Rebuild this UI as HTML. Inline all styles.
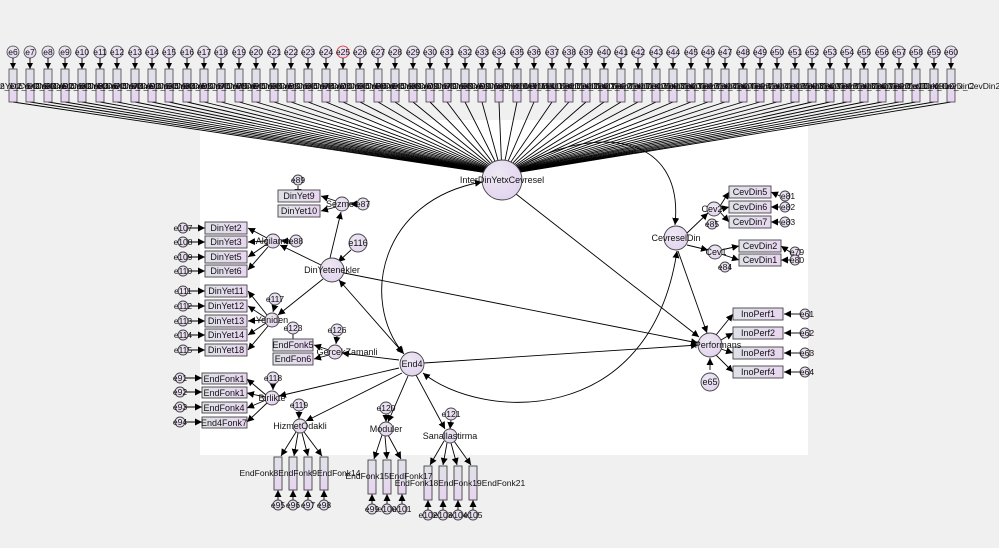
<!DOCTYPE html>
<html><head><meta charset="utf-8"><style>
html,body{margin:0;padding:0;background:#f0f0f0}
svg{display:block}
text{font-family:"Liberation Sans",sans-serif;fill:#111}
</style></head><body>
<svg width="999" height="548" viewBox="0 0 999 548" xmlns="http://www.w3.org/2000/svg">
<defs>
<marker id="a" viewBox="0 0 10 10" refX="10" refY="5" markerWidth="7" markerHeight="7" orient="auto-start-reverse" markerUnits="userSpaceOnUse"><path d="M0,0L10,5L0,10z" fill="#000"/></marker>
<linearGradient id="bx" x1="0" y1="0" x2="0" y2="1"><stop offset="0" stop-color="#dfe1e8"/><stop offset="0.5" stop-color="#e4dcec"/><stop offset="1" stop-color="#e6d3f0"/></linearGradient>
<linearGradient id="bh" x1="0" y1="0" x2="1" y2="0"><stop offset="0" stop-color="#dfe1e8"/><stop offset="1" stop-color="#e8d6f0"/></linearGradient>
<radialGradient id="cg" cx="0.4" cy="0.35" r="0.7"><stop offset="0" stop-color="#ece8f2"/><stop offset="1" stop-color="#e3d3ef"/></radialGradient>
</defs>
<rect width="999" height="548" fill="#f0f0f0"/>
<rect x="200" y="120" width="608" height="335" fill="#fff"/>

<g stroke="#000" stroke-width="0.9" fill="none">
<line x1="13" y1="102" x2="502" y2="175"/><line x1="30" y1="102" x2="502" y2="175"/><line x1="48" y1="102" x2="502" y2="175"/><line x1="65" y1="102" x2="502" y2="175"/><line x1="82" y1="102" x2="502" y2="175"/><line x1="100" y1="102" x2="502" y2="175"/><line x1="117" y1="102" x2="502" y2="175"/><line x1="135" y1="102" x2="502" y2="175"/><line x1="152" y1="102" x2="502" y2="175"/><line x1="169" y1="102" x2="502" y2="175"/><line x1="187" y1="102" x2="502" y2="175"/><line x1="204" y1="102" x2="502" y2="175"/><line x1="221" y1="102" x2="502" y2="175"/><line x1="239" y1="102" x2="502" y2="175"/><line x1="256" y1="102" x2="502" y2="175"/><line x1="274" y1="102" x2="502" y2="175"/><line x1="291" y1="102" x2="502" y2="175"/><line x1="308" y1="102" x2="502" y2="175"/><line x1="326" y1="102" x2="502" y2="175"/><line x1="343" y1="102" x2="502" y2="175"/><line x1="360" y1="102" x2="502" y2="175"/><line x1="378" y1="102" x2="502" y2="175"/><line x1="395" y1="102" x2="502" y2="175"/><line x1="413" y1="102" x2="502" y2="175"/><line x1="430" y1="102" x2="502" y2="175"/><line x1="447" y1="102" x2="502" y2="175"/><line x1="465" y1="102" x2="502" y2="175"/><line x1="482" y1="102" x2="502" y2="175"/><line x1="499" y1="102" x2="502" y2="175"/><line x1="517" y1="102" x2="502" y2="175"/><line x1="534" y1="102" x2="502" y2="175"/><line x1="552" y1="102" x2="502" y2="175"/><line x1="569" y1="102" x2="502" y2="175"/><line x1="586" y1="102" x2="502" y2="175"/><line x1="604" y1="102" x2="502" y2="175"/><line x1="621" y1="102" x2="502" y2="175"/><line x1="638" y1="102" x2="502" y2="175"/><line x1="656" y1="102" x2="502" y2="175"/><line x1="673" y1="102" x2="502" y2="175"/><line x1="691" y1="102" x2="502" y2="175"/><line x1="708" y1="102" x2="502" y2="175"/><line x1="725" y1="102" x2="502" y2="175"/><line x1="743" y1="102" x2="502" y2="175"/><line x1="760" y1="102" x2="502" y2="175"/><line x1="777" y1="102" x2="502" y2="175"/><line x1="795" y1="102" x2="502" y2="175"/><line x1="812" y1="102" x2="502" y2="175"/><line x1="830" y1="102" x2="502" y2="175"/><line x1="847" y1="102" x2="502" y2="175"/><line x1="864" y1="102" x2="502" y2="175"/><line x1="882" y1="102" x2="502" y2="175"/><line x1="899" y1="102" x2="502" y2="175"/><line x1="916" y1="102" x2="502" y2="175"/><line x1="934" y1="102" x2="502" y2="175"/><line x1="951" y1="102" x2="502" y2="175"/>

<path d="M518,168 C590,125 685,130 675,225" marker-end="url(#a)"/>
<path d="M403,353 C360,300 380,200 482,182" marker-start="url(#a)" marker-end="url(#a)"/>
<path d="M423,373 C480,420 650,430 677,251" marker-start="url(#a)" marker-end="url(#a)"/>
<line x1="516" y1="194" x2="699" y2="337" marker-end="url(#a)"/>
<line x1="344" y1="273" x2="698" y2="343" marker-end="url(#a)"/>
<line x1="424" y1="363" x2="698" y2="345" marker-end="url(#a)"/>
<line x1="678" y1="251" x2="707" y2="333" marker-end="url(#a)"/>
<line x1="339" y1="280" x2="404" y2="354" marker-start="url(#a)" marker-end="url(#a)"/>
<line x1="330" y1="258" x2="341" y2="212" marker-end="url(#a)"/>
<line x1="321" y1="265" x2="280" y2="245" marker-end="url(#a)"/>
<line x1="323" y1="279" x2="278" y2="315" marker-end="url(#a)"/>
<line x1="351" y1="250" x2="338" y2="262" marker-end="url(#a)"/>
<line x1="399" y1="360" x2="342" y2="353" marker-end="url(#a)"/>
<line x1="399" y1="368" x2="279" y2="396" marker-end="url(#a)"/>
<line x1="402" y1="373" x2="306" y2="421" marker-end="url(#a)"/>
<line x1="408" y1="376" x2="388" y2="422" marker-end="url(#a)"/>
<line x1="416" y1="375" x2="445" y2="429" marker-end="url(#a)"/>
<line x1="687" y1="233" x2="708" y2="213" marker-end="url(#a)"/>
<line x1="687" y1="245" x2="708" y2="250" marker-end="url(#a)"/>
<line x1="710" y1="370" x2="710" y2="358" marker-end="url(#a)"/>
<line x1="336" y1="201" x2="321" y2="196" marker-end="url(#a)"/>
<line x1="336" y1="207" x2="321" y2="211" marker-end="url(#a)"/>
<line x1="357" y1="204" x2="350" y2="204" marker-end="url(#a)"/>
<line x1="298" y1="186" x2="298" y2="196" marker-end="url(#a)"/>
<line x1="267" y1="238" x2="248" y2="228" marker-end="url(#a)"/>
<line x1="266" y1="241" x2="248" y2="242" marker-end="url(#a)"/>
<line x1="267" y1="244" x2="248" y2="257" marker-end="url(#a)"/>
<line x1="268" y1="247" x2="248" y2="270" marker-end="url(#a)"/>
<line x1="290" y1="241" x2="281" y2="241" marker-end="url(#a)"/>
<line x1="267" y1="315" x2="248" y2="291" marker-end="url(#a)"/>
<line x1="266" y1="318" x2="248" y2="306" marker-end="url(#a)"/>
<line x1="265" y1="320" x2="248" y2="321" marker-end="url(#a)"/>
<line x1="266" y1="323" x2="248" y2="335" marker-end="url(#a)"/>
<line x1="268" y1="326" x2="248" y2="350" marker-end="url(#a)"/>
<line x1="275" y1="305" x2="273" y2="312" marker-end="url(#a)"/>
<line x1="329" y1="350" x2="314" y2="345" marker-end="url(#a)"/>
<line x1="329" y1="355" x2="314" y2="359" marker-end="url(#a)"/>
<line x1="337" y1="336" x2="336" y2="344" marker-end="url(#a)"/>
<line x1="293" y1="334" x2="293" y2="348" marker-end="url(#a)"/>
<line x1="266" y1="395" x2="247" y2="379" marker-end="url(#a)"/>
<line x1="265" y1="397" x2="247" y2="393" marker-end="url(#a)"/>
<line x1="266" y1="400" x2="247" y2="408" marker-end="url(#a)"/>
<line x1="267" y1="403" x2="247" y2="422" marker-end="url(#a)"/>
<line x1="273" y1="384" x2="273" y2="390" marker-end="url(#a)"/>
<line x1="296" y1="432" x2="281" y2="456" marker-end="url(#a)"/>
<line x1="298" y1="433" x2="294" y2="456" marker-end="url(#a)"/>
<line x1="302" y1="433" x2="308" y2="456" marker-end="url(#a)"/>
<line x1="304" y1="432" x2="322" y2="456" marker-end="url(#a)"/>
<line x1="299" y1="411" x2="299" y2="419" marker-end="url(#a)"/>
<line x1="382" y1="435" x2="374" y2="459" marker-end="url(#a)"/>
<line x1="385" y1="436" x2="387" y2="459" marker-end="url(#a)"/>
<line x1="388" y1="435" x2="401" y2="459" marker-end="url(#a)"/>
<line x1="386" y1="414" x2="386" y2="422" marker-end="url(#a)"/>
<line x1="444" y1="441" x2="430" y2="465" marker-end="url(#a)"/>
<line x1="447" y1="443" x2="443" y2="465" marker-end="url(#a)"/>
<line x1="451" y1="443" x2="457" y2="465" marker-end="url(#a)"/>
<line x1="454" y1="441" x2="471" y2="465" marker-end="url(#a)"/>
<line x1="451" y1="420" x2="450" y2="429" marker-end="url(#a)"/>
<line x1="720" y1="206" x2="729" y2="192" marker-end="url(#a)"/>
<line x1="721" y1="209" x2="729" y2="207" marker-end="url(#a)"/>
<line x1="720" y1="212" x2="729" y2="222" marker-end="url(#a)"/>
<line x1="780" y1="196" x2="771" y2="192" marker-end="url(#a)"/>
<line x1="780" y1="207" x2="771" y2="207" marker-end="url(#a)"/>
<line x1="780" y1="222" x2="771" y2="222" marker-end="url(#a)"/>
<line x1="721" y1="250" x2="739" y2="246" marker-end="url(#a)"/>
<line x1="721" y1="254" x2="739" y2="260" marker-end="url(#a)"/>
<line x1="790" y1="252" x2="781" y2="246" marker-end="url(#a)"/>
<line x1="790" y1="260" x2="781" y2="260" marker-end="url(#a)"/>
<line x1="716" y1="335" x2="733" y2="314" marker-end="url(#a)"/>
<line x1="721" y1="340" x2="733" y2="333" marker-end="url(#a)"/>
<line x1="721" y1="349" x2="733" y2="353" marker-end="url(#a)"/>
<line x1="716" y1="355" x2="733" y2="372" marker-end="url(#a)"/>
<line x1="800" y1="314" x2="784" y2="314" marker-end="url(#a)"/>
<line x1="800" y1="333" x2="784" y2="333" marker-end="url(#a)"/>
<line x1="800" y1="353" x2="784" y2="353" marker-end="url(#a)"/>
<line x1="800" y1="372" x2="784" y2="372" marker-end="url(#a)"/>
<line x1="188" y1="228" x2="205" y2="228" marker-end="url(#a)"/><line x1="188" y1="242" x2="205" y2="242" marker-end="url(#a)"/><line x1="188" y1="257" x2="205" y2="257" marker-end="url(#a)"/><line x1="188" y1="271" x2="205" y2="271" marker-end="url(#a)"/>
<line x1="188" y1="291" x2="205" y2="291" marker-end="url(#a)"/><line x1="188" y1="306" x2="205" y2="306" marker-end="url(#a)"/><line x1="188" y1="321" x2="205" y2="321" marker-end="url(#a)"/><line x1="188" y1="335" x2="205" y2="335" marker-end="url(#a)"/><line x1="188" y1="350" x2="205" y2="350" marker-end="url(#a)"/>
<line x1="185" y1="378" x2="202" y2="378" marker-end="url(#a)"/><line x1="185" y1="392" x2="202" y2="392" marker-end="url(#a)"/><line x1="185" y1="407" x2="202" y2="407" marker-end="url(#a)"/><line x1="185" y1="422" x2="202" y2="422" marker-end="url(#a)"/>
<line x1="278" y1="500" x2="278" y2="490" marker-end="url(#a)"/><line x1="293" y1="500" x2="293" y2="490" marker-end="url(#a)"/><line x1="308" y1="500" x2="308" y2="490" marker-end="url(#a)"/><line x1="324" y1="500" x2="324" y2="490" marker-end="url(#a)"/>
<line x1="372" y1="504" x2="372" y2="494" marker-end="url(#a)"/><line x1="387" y1="504" x2="387" y2="494" marker-end="url(#a)"/><line x1="402" y1="504" x2="402" y2="494" marker-end="url(#a)"/>
<line x1="428" y1="510" x2="428" y2="500" marker-end="url(#a)"/><line x1="443" y1="510" x2="443" y2="500" marker-end="url(#a)"/><line x1="458" y1="510" x2="458" y2="500" marker-end="url(#a)"/><line x1="473" y1="510" x2="473" y2="500" marker-end="url(#a)"/>
</g>

<g stroke="#444" stroke-width="0.8">
<g fill="url(#bx)">
<rect x="9" y="69" width="8" height="33"/><rect x="26" y="69" width="8" height="33"/><rect x="44" y="69" width="8" height="33"/><rect x="61" y="69" width="8" height="33"/><rect x="78" y="69" width="8" height="33"/><rect x="96" y="69" width="8" height="33"/><rect x="113" y="69" width="8" height="33"/><rect x="131" y="69" width="8" height="33"/><rect x="148" y="69" width="8" height="33"/><rect x="165" y="69" width="8" height="33"/><rect x="183" y="69" width="8" height="33"/><rect x="200" y="69" width="8" height="33"/><rect x="217" y="69" width="8" height="33"/><rect x="235" y="69" width="8" height="33"/><rect x="252" y="69" width="8" height="33"/><rect x="270" y="69" width="8" height="33"/><rect x="287" y="69" width="8" height="33"/><rect x="304" y="69" width="8" height="33"/><rect x="322" y="69" width="8" height="33"/><rect x="339" y="69" width="8" height="33"/><rect x="356" y="69" width="8" height="33"/><rect x="374" y="69" width="8" height="33"/><rect x="391" y="69" width="8" height="33"/><rect x="409" y="69" width="8" height="33"/><rect x="426" y="69" width="8" height="33"/><rect x="443" y="69" width="8" height="33"/><rect x="461" y="69" width="8" height="33"/><rect x="478" y="69" width="8" height="33"/><rect x="495" y="69" width="8" height="33"/><rect x="513" y="69" width="8" height="33"/><rect x="530" y="69" width="8" height="33"/><rect x="548" y="69" width="8" height="33"/><rect x="565" y="69" width="8" height="33"/><rect x="582" y="69" width="8" height="33"/><rect x="600" y="69" width="8" height="33"/><rect x="617" y="69" width="8" height="33"/><rect x="634" y="69" width="8" height="33"/><rect x="652" y="69" width="8" height="33"/><rect x="669" y="69" width="8" height="33"/><rect x="687" y="69" width="8" height="33"/><rect x="704" y="69" width="8" height="33"/><rect x="721" y="69" width="8" height="33"/><rect x="739" y="69" width="8" height="33"/><rect x="756" y="69" width="8" height="33"/><rect x="773" y="69" width="8" height="33"/><rect x="791" y="69" width="8" height="33"/><rect x="808" y="69" width="8" height="33"/><rect x="826" y="69" width="8" height="33"/><rect x="843" y="69" width="8" height="33"/><rect x="860" y="69" width="8" height="33"/><rect x="878" y="69" width="8" height="33"/><rect x="895" y="69" width="8" height="33"/><rect x="912" y="69" width="8" height="33"/><rect x="930" y="69" width="8" height="33"/><rect x="947" y="69" width="8" height="33"/>
</g>
<g fill="url(#cg)">
<circle cx="13" cy="52" r="6"/><circle cx="30" cy="52" r="6"/><circle cx="48" cy="52" r="6"/><circle cx="65" cy="52" r="6"/><circle cx="82" cy="52" r="6"/><circle cx="100" cy="52" r="6"/><circle cx="117" cy="52" r="6"/><circle cx="135" cy="52" r="6"/><circle cx="152" cy="52" r="6"/><circle cx="169" cy="52" r="6"/><circle cx="187" cy="52" r="6"/><circle cx="204" cy="52" r="6"/><circle cx="221" cy="52" r="6"/><circle cx="239" cy="52" r="6"/><circle cx="256" cy="52" r="6"/><circle cx="274" cy="52" r="6"/><circle cx="291" cy="52" r="6"/><circle cx="308" cy="52" r="6"/><circle cx="326" cy="52" r="6"/><circle cx="343" cy="52" r="6" stroke="#e02020"/><circle cx="360" cy="52" r="6"/><circle cx="378" cy="52" r="6"/><circle cx="395" cy="52" r="6"/><circle cx="413" cy="52" r="6"/><circle cx="430" cy="52" r="6"/><circle cx="447" cy="52" r="6"/><circle cx="465" cy="52" r="6"/><circle cx="482" cy="52" r="6"/><circle cx="499" cy="52" r="6"/><circle cx="517" cy="52" r="6"/><circle cx="534" cy="52" r="6"/><circle cx="552" cy="52" r="6"/><circle cx="569" cy="52" r="6"/><circle cx="586" cy="52" r="6"/><circle cx="604" cy="52" r="6"/><circle cx="621" cy="52" r="6"/><circle cx="638" cy="52" r="6"/><circle cx="656" cy="52" r="6"/><circle cx="673" cy="52" r="6"/><circle cx="691" cy="52" r="6"/><circle cx="708" cy="52" r="6"/><circle cx="725" cy="52" r="6"/><circle cx="743" cy="52" r="6"/><circle cx="760" cy="52" r="6"/><circle cx="777" cy="52" r="6"/><circle cx="795" cy="52" r="6"/><circle cx="812" cy="52" r="6"/><circle cx="830" cy="52" r="6"/><circle cx="847" cy="52" r="6"/><circle cx="864" cy="52" r="6"/><circle cx="882" cy="52" r="6"/><circle cx="899" cy="52" r="6"/><circle cx="916" cy="52" r="6"/><circle cx="934" cy="52" r="6"/><circle cx="951" cy="52" r="6"/>
</g>
</g>
<g stroke="#000" stroke-width="0.9">
<path d="M13,58V69M30,58V69M48,58V69M65,58V69M82,58V69M100,58V69M117,58V69M135,58V69M152,58V69M169,58V69M187,58V69M204,58V69M221,58V69M239,58V69M256,58V69M274,58V69M291,58V69M308,58V69M326,58V69M343,58V69M360,58V69M378,58V69M395,58V69M413,58V69M430,58V69M447,58V69M465,58V69M482,58V69M499,58V69M517,58V69M534,58V69M552,58V69M569,58V69M586,58V69M604,58V69M621,58V69M638,58V69M656,58V69M673,58V69M691,58V69M708,58V69M725,58V69M743,58V69M760,58V69M777,58V69M795,58V69M812,58V69M830,58V69M847,58V69M864,58V69M882,58V69M899,58V69M916,58V69M934,58V69M951,58V69"/>
</g>
<g fill="#000" stroke="none">
<path d="M10,63h6l-3,6zM27,63h6l-3,6zM45,63h6l-3,6zM62,63h6l-3,6zM79,63h6l-3,6zM97,63h6l-3,6zM114,63h6l-3,6zM132,63h6l-3,6zM149,63h6l-3,6zM166,63h6l-3,6zM184,63h6l-3,6zM201,63h6l-3,6zM218,63h6l-3,6zM236,63h6l-3,6zM253,63h6l-3,6zM271,63h6l-3,6zM288,63h6l-3,6zM305,63h6l-3,6zM323,63h6l-3,6zM340,63h6l-3,6zM357,63h6l-3,6zM375,63h6l-3,6zM392,63h6l-3,6zM410,63h6l-3,6zM427,63h6l-3,6zM444,63h6l-3,6zM462,63h6l-3,6zM479,63h6l-3,6zM496,63h6l-3,6zM514,63h6l-3,6zM531,63h6l-3,6zM549,63h6l-3,6zM566,63h6l-3,6zM583,63h6l-3,6zM601,63h6l-3,6zM618,63h6l-3,6zM635,63h6l-3,6zM653,63h6l-3,6zM670,63h6l-3,6zM688,63h6l-3,6zM705,63h6l-3,6zM722,63h6l-3,6zM740,63h6l-3,6zM757,63h6l-3,6zM774,63h6l-3,6zM792,63h6l-3,6zM809,63h6l-3,6zM827,63h6l-3,6zM844,63h6l-3,6zM861,63h6l-3,6zM879,63h6l-3,6zM896,63h6l-3,6zM913,63h6l-3,6zM931,63h6l-3,6zM948,63h6l-3,6z"/>
</g>
<g font-size="8.5" text-anchor="middle">
<text x="13" y="55">e6</text><text x="30" y="55">e7</text><text x="48" y="55">e8</text><text x="65" y="55">e9</text><text x="82" y="55">e10</text><text x="100" y="55">e11</text><text x="117" y="55">e12</text><text x="135" y="55">e13</text><text x="152" y="55">e14</text><text x="169" y="55">e15</text><text x="187" y="55">e16</text><text x="204" y="55">e17</text><text x="221" y="55">e18</text><text x="239" y="55">e19</text><text x="256" y="55">e20</text><text x="274" y="55">e21</text><text x="291" y="55">e22</text><text x="308" y="55">e23</text><text x="326" y="55">e24</text><text x="343" y="55">e25</text><text x="360" y="55">e26</text><text x="378" y="55">e27</text><text x="395" y="55">e28</text><text x="413" y="55">e29</text><text x="430" y="55">e30</text><text x="447" y="55">e31</text><text x="465" y="55">e32</text><text x="482" y="55">e33</text><text x="499" y="55">e34</text><text x="517" y="55">e35</text><text x="534" y="55">e36</text><text x="552" y="55">e37</text><text x="569" y="55">e38</text><text x="586" y="55">e39</text><text x="604" y="55">e40</text><text x="621" y="55">e41</text><text x="638" y="55">e42</text><text x="656" y="55">e43</text><text x="673" y="55">e44</text><text x="691" y="55">e45</text><text x="708" y="55">e46</text><text x="725" y="55">e47</text><text x="743" y="55">e48</text><text x="760" y="55">e49</text><text x="777" y="55">e50</text><text x="795" y="55">e51</text><text x="812" y="55">e52</text><text x="830" y="55">e53</text><text x="847" y="55">e54</text><text x="864" y="55">e55</text><text x="882" y="55">e56</text><text x="899" y="55">e57</text><text x="916" y="55">e58</text><text x="934" y="55">e59</text><text x="951" y="55">e60</text>
</g>
<g font-size="8.5" text-anchor="middle">
<text x="13" y="89">DinYet2_x_CevDin5</text><text x="30" y="89">DinYet2_x_CevDin5</text><text x="48" y="89">DinYet2_x_CevDin6</text><text x="65" y="89">DinYet2_x_CevDin6</text><text x="82" y="89">DinYet2_x_CevDin7</text><text x="100" y="89">DinYet2_x_CevDin7</text><text x="117" y="89">DinYet3_x_CevDin5</text><text x="135" y="89">DinYet3_x_CevDin5</text><text x="152" y="89">DinYet3_x_CevDin6</text><text x="169" y="89">DinYet3_x_CevDin6</text><text x="187" y="89">DinYet3_x_CevDin7</text><text x="204" y="89">DinYet3_x_CevDin7</text><text x="221" y="89">DinYet5_x_CevDin5</text><text x="239" y="89">DinYet5_x_CevDin5</text><text x="256" y="89">DinYet5_x_CevDin6</text><text x="274" y="89">DinYet5_x_CevDin6</text><text x="291" y="89">DinYet5_x_CevDin7</text><text x="308" y="89">DinYet5_x_CevDin7</text><text x="326" y="89">DinYet6_x_CevDin5</text><text x="343" y="89">DinYet6_x_CevDin5</text><text x="360" y="89">DinYet6_x_CevDin6</text><text x="378" y="89">DinYet6_x_CevDin6</text><text x="395" y="89">DinYet6_x_CevDin7</text><text x="413" y="89">DinYet6_x_CevDin7</text><text x="430" y="89">DinYet9_x_CevDin5</text><text x="447" y="89">DinYet9_x_CevDin5</text><text x="465" y="89">DinYet9_x_CevDin6</text><text x="482" y="89">DinYet9_x_CevDin6</text><text x="499" y="89">DinYet9_x_CevDin7</text><text x="517" y="89">DinYet9_x_CevDin7</text><text x="534" y="89">DinYet11_x_CevDin1</text><text x="552" y="89">DinYet11_x_CevDin1</text><text x="569" y="89">DinYet11_x_CevDin2</text><text x="586" y="89">DinYet11_x_CevDin2</text><text x="604" y="89">DinYet12_x_CevDin1</text><text x="621" y="89">DinYet12_x_CevDin1</text><text x="638" y="89">DinYet12_x_CevDin2</text><text x="656" y="89">DinYet12_x_CevDin2</text><text x="673" y="89">DinYet13_x_CevDin1</text><text x="691" y="89">DinYet13_x_CevDin1</text><text x="708" y="89">DinYet13_x_CevDin2</text><text x="725" y="89">DinYet13_x_CevDin2</text><text x="743" y="89">DinYet14_x_CevDin1</text><text x="760" y="89">DinYet14_x_CevDin1</text><text x="777" y="89">DinYet14_x_CevDin2</text><text x="795" y="89">DinYet14_x_CevDin2</text><text x="812" y="89">DinYet18_x_CevDin1</text><text x="830" y="89">DinYet18_x_CevDin1</text><text x="847" y="89">DinYet18_x_CevDin2</text><text x="864" y="89">DinYet18_x_CevDin2</text><text x="882" y="89">DinYet10_x_CevDin1</text><text x="899" y="89">DinYet10_x_CevDin1</text><text x="916" y="89">DinYet10_x_CevDin2</text><text x="934" y="89">DinYet10_x_CevDin2</text><text x="960" y="89">DinYet10_x_CevDin2</text>
</g>

<g stroke="#444" stroke-width="0.9" fill="url(#bh)">
<rect x="278" y="190" width="42" height="12"/><rect x="278" y="205" width="42" height="12"/>
<rect x="205" y="222" width="42" height="12"/><rect x="205" y="236" width="42" height="12"/><rect x="205" y="251" width="42" height="12"/><rect x="205" y="265" width="42" height="12"/>
<rect x="205" y="285" width="42" height="12"/><rect x="205" y="300" width="42" height="12"/><rect x="205" y="315" width="42" height="12"/><rect x="205" y="329" width="42" height="12"/><rect x="205" y="344" width="42" height="12"/>
<rect x="273" y="339" width="40" height="12"/><rect x="273" y="353" width="40" height="12"/>
<rect x="202" y="373" width="45" height="11"/><rect x="202" y="387" width="45" height="11"/><rect x="202" y="402" width="45" height="11"/><rect x="202" y="417" width="45" height="11"/>
<rect x="729" y="186" width="42" height="12"/><rect x="729" y="201" width="42" height="12"/><rect x="729" y="216" width="42" height="12"/>
<rect x="739" y="240" width="42" height="12"/><rect x="739" y="254" width="42" height="12"/>
<rect x="733" y="308" width="50" height="12"/><rect x="733" y="327" width="50" height="12"/><rect x="733" y="347" width="50" height="12"/><rect x="733" y="366" width="50" height="12"/>
</g>
<g stroke="#444" stroke-width="0.9" fill="url(#bx)">
<rect x="274" y="457" width="8" height="33"/><rect x="289" y="457" width="8" height="33"/><rect x="304" y="457" width="8" height="33"/><rect x="320" y="457" width="8" height="33"/>
<rect x="368" y="460" width="8" height="34"/><rect x="383" y="460" width="8" height="34"/><rect x="398" y="460" width="8" height="34"/>
<rect x="424" y="466" width="8" height="34"/><rect x="439" y="466" width="8" height="34"/><rect x="454" y="466" width="8" height="34"/><rect x="469" y="466" width="8" height="34"/>
</g>

<g stroke="#444" stroke-width="0.9" fill="url(#cg)">
<circle cx="502" cy="180" r="20"/>
<circle cx="332" cy="270" r="12"/><circle cx="412" cy="364" r="12"/><circle cx="676" cy="238" r="12"/><circle cx="710" cy="345" r="12"/>
<circle cx="342" cy="204" r="7"/><circle cx="273" cy="241" r="7"/><circle cx="272" cy="320" r="7"/><circle cx="335" cy="352" r="7"/><circle cx="272" cy="398" r="7"/><circle cx="300" cy="426" r="7"/><circle cx="386" cy="429" r="7"/><circle cx="450" cy="436" r="7"/><circle cx="714" cy="209" r="7"/><circle cx="715" cy="252" r="7"/>
<circle cx="358" cy="243" r="9"/><circle cx="710" cy="382" r="9"/>
<circle cx="298" cy="180" r="5"/><circle cx="363" cy="204" r="6"/><circle cx="296" cy="241" r="6"/><circle cx="275" cy="299" r="6"/><circle cx="293" cy="328" r="6"/><circle cx="337" cy="330" r="6"/><circle cx="273" cy="378" r="6"/><circle cx="299" cy="405" r="6"/><circle cx="386" cy="408" r="6"/><circle cx="451" cy="414" r="6"/>
<circle cx="183" cy="228" r="5"/><circle cx="183" cy="242" r="5"/><circle cx="183" cy="257" r="5"/><circle cx="183" cy="271" r="5"/>
<circle cx="183" cy="291" r="5"/><circle cx="183" cy="306" r="5"/><circle cx="183" cy="321" r="5"/><circle cx="183" cy="335" r="5"/><circle cx="183" cy="350" r="5"/>
<circle cx="180" cy="378" r="5"/><circle cx="180" cy="392" r="5"/><circle cx="180" cy="407" r="5"/><circle cx="180" cy="422" r="5"/>
<circle cx="278" cy="505" r="5"/><circle cx="293" cy="505" r="5"/><circle cx="308" cy="505" r="5"/><circle cx="324" cy="505" r="5"/>
<circle cx="372" cy="509" r="5"/><circle cx="387" cy="509" r="5"/><circle cx="402" cy="509" r="5"/>
<circle cx="428" cy="515" r="5"/><circle cx="443" cy="515" r="5"/><circle cx="458" cy="515" r="5"/><circle cx="473" cy="515" r="5"/>
<circle cx="785" cy="196" r="5"/><circle cx="785" cy="207" r="5"/><circle cx="785" cy="222" r="5"/><circle cx="712" cy="224" r="5"/>
<circle cx="795" cy="252" r="5"/><circle cx="795" cy="260" r="5"/><circle cx="725" cy="267" r="5"/>
<circle cx="805" cy="314" r="5"/><circle cx="805" cy="333" r="5"/><circle cx="805" cy="353" r="5"/><circle cx="805" cy="372" r="5"/>
</g>

<g font-size="9" text-anchor="middle">
<text x="502" y="183">InterDinYetxCevresel</text>
<text x="332" y="273">DinYetenekler</text><text x="412" y="367">End4</text><text x="676" y="241">CevreselDin</text><text x="718" y="348">Performans</text>
<text x="340" y="207">Sezme</text><text x="273" y="244">Algilama</text><text x="272" y="323">Yeniden</text><text x="347" y="355">GercekZamanli</text><text x="272" y="401">Birlikte</text><text x="300" y="429">HizmetOdakli</text><text x="386" y="432">Moduler</text><text x="450" y="439">Sanallastirma</text><text x="712" y="212">Cev2</text><text x="716" y="255">Cev1</text>
<text x="358" y="246">e116</text><text x="710" y="385">e65</text>
<text x="299" y="199">DinYet9</text><text x="299" y="214">DinYet10</text>
<text x="226" y="231">DinYet2</text><text x="226" y="245">DinYet3</text><text x="226" y="260">DinYet5</text><text x="226" y="274">DinYet6</text>
<text x="226" y="294">DinYet11</text><text x="226" y="309">DinYet12</text><text x="226" y="324">DinYet13</text><text x="226" y="338">DinYet14</text><text x="226" y="353">DinYet18</text>
<text x="293" y="348">EndFonk5</text><text x="293" y="362">EndFon6</text>
<text x="224" y="382">EndFonk1</text><text x="224" y="396">EndFonk1</text><text x="224" y="411">EndFonk4</text><text x="224" y="426">End4Fonk7</text>
<text x="750" y="195">CevDin5</text><text x="750" y="210">CevDin6</text><text x="750" y="225">CevDin7</text>
<text x="760" y="249">CevDin2</text><text x="760" y="263">CevDin1</text>
<text x="758" y="317">InoPerf1</text><text x="758" y="336">InoPerf2</text><text x="758" y="356">InoPerf3</text><text x="758" y="375">InoPerf4</text>
</g>
<g font-size="8.5" text-anchor="middle">
<text x="298" y="183">e89</text><text x="363" y="207">e87</text><text x="296" y="244">e88</text><text x="275" y="302">e117</text><text x="293" y="331">e123</text><text x="337" y="333">e126</text><text x="273" y="381">e118</text><text x="299" y="408">e119</text><text x="386" y="411">e120</text><text x="451" y="417">e121</text>
<text x="183" y="231">e107</text><text x="183" y="245">e108</text><text x="183" y="260">e109</text><text x="183" y="274">e110</text>
<text x="183" y="294">e111</text><text x="183" y="309">e112</text><text x="183" y="324">e113</text><text x="183" y="338">e114</text><text x="183" y="353">e115</text>
<text x="180" y="381">e91</text><text x="180" y="395">e92</text><text x="180" y="410">e93</text><text x="180" y="425">e94</text>
<text x="278" y="508">e95</text><text x="293" y="508">e96</text><text x="308" y="508">e97</text><text x="324" y="508">e98</text>
<text x="372" y="512">e99</text><text x="387" y="512">e100</text><text x="402" y="512">e101</text>
<text x="428" y="518">e102</text><text x="443" y="518">e103</text><text x="458" y="518">e104</text><text x="473" y="518">e105</text>
<text x="788" y="199">e81</text><text x="788" y="210">e82</text><text x="788" y="225">e83</text><text x="712" y="227">e85</text>
<text x="797" y="255">e79</text><text x="797" y="263">e80</text><text x="725" y="270">e84</text>
<text x="807" y="317">e61</text><text x="807" y="336">e62</text><text x="807" y="356">e63</text><text x="807" y="375">e64</text>
<text x="300" y="476">EndFonk8EndFonk9EndFonk14</text>
<text x="389" y="479">EndFonk15EndFonk17</text>
<text x="460" y="486">EndFonk18EndFonk19EndFonk21</text>
</g>
</svg>
</body></html>
